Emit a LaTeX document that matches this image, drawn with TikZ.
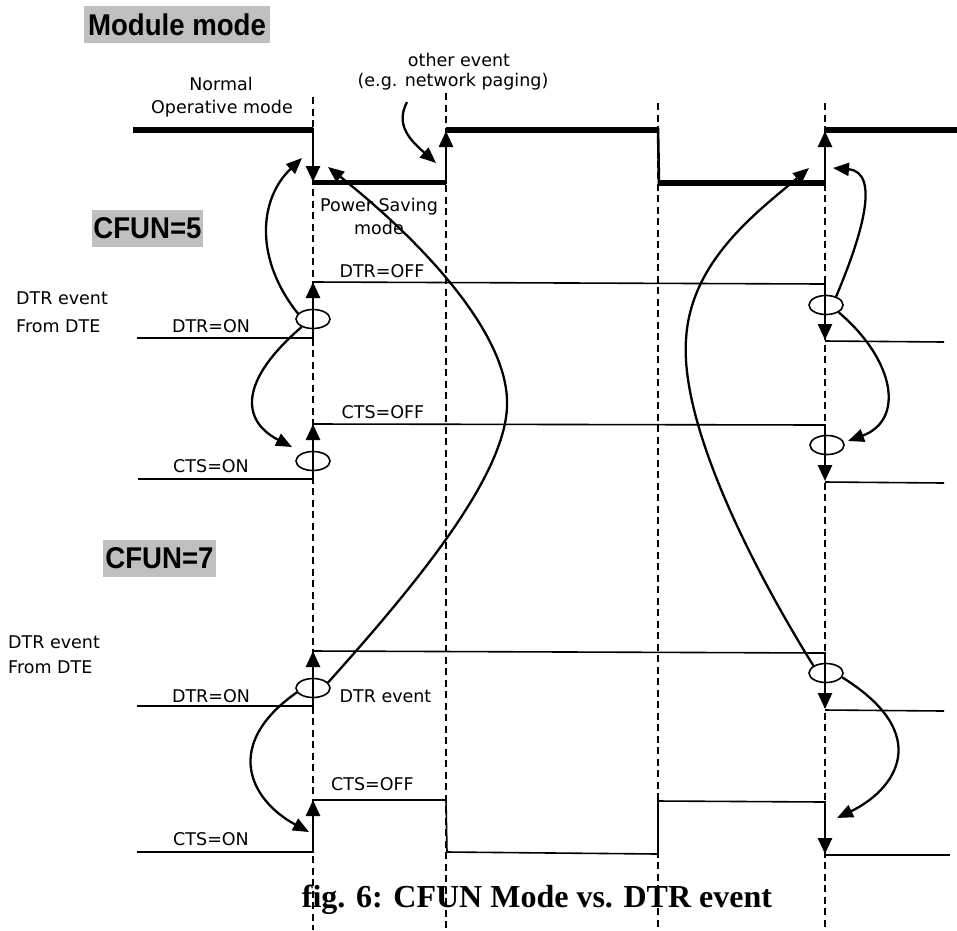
\documentclass[tikz,border=0pt]{standalone}
\usepackage{fontspec}
\setmainfont{DejaVu Sans}
\newfontfamily\headfont{Liberation Sans}[FakeStretch=0.92]
\newfontfamily\capfont{Liberation Serif}
\usetikzlibrary{arrows.meta,shapes.geometric}
\definecolor{hdgray}{RGB}{191,191,191}
\tikzset{
  modeline/.style={line width=5.5pt},
  sig/.style={line width=1.6pt},
  edgearrow/.style={line width=2.6pt,-{Triangle[length=16pt,width=14pt]}},
  edgeplain/.style={line width=2.6pt},
  link/.style={line width=2.3pt,-{Triangle[length=16pt,width=13pt]}},
  guide/.style={line width=1.4pt,dash pattern=on 7pt off 4.5pt},
  ring/.style={ellipse,draw,line width=1.6pt,minimum width=34pt,minimum height=19pt,inner sep=0pt},
  lbl/.style={inner sep=0pt,font=\fontsize{17.5}{21}\selectfont},
  head/.style={fill=hdgray,inner sep=0pt,font=\headfont\bfseries\fontsize{30}{30}\selectfont,minimum height=37pt},
}
\begin{document}
\begin{tikzpicture}[x=1pt,y=-1pt]
\useasboundingbox (0,0) rectangle (957,930);

% time guides
\draw[guide] (313,97) -- (313,930);
\draw[guide] (446,93) -- (446,930);
\draw[guide] (658,103) -- (658,930);
\draw[guide] (825,103) -- (825,930);

% headings
\node[head,minimum width=186pt] (hmod) at (177,24.5) {Module mode};
\node[head,minimum width=111pt] (hc5) at (147.5,228.5) {CFUN=5};
\node[head,minimum width=113pt] (hc7) at (159.5,558.5) {CFUN=7};

% module mode waveform
\draw[modeline] (133,130) -- (313,130);
\draw[modeline] (313,182.5) -- (446,182.5);
\draw[modeline] (446,130) -- (658,130);
\draw[modeline] (658,183) -- (825,183);
\draw[modeline] (825,130) -- (957,130);
\draw[edgearrow] (313,128) -- (313,182);
\draw[edgearrow] (446,184) -- (446,131);
\draw[edgeplain] (658,128) -- (659,185);
\draw[edgearrow] (825,185) -- (825,131);

\node[lbl,anchor=base] (tnorm) at (221,90) {Normal};
\node[lbl,anchor=base] (toper) at (222,113) {Operative mode};
\node[lbl,anchor=base] (tother) at (459,66) {other event};
\node[lbl,anchor=base] (tpage) at (453,86) {(e.g. network paging)};
\node[lbl,anchor=base] (tpow) at (379,211) {Power Saving};
\node[lbl,anchor=base] (tpmode) at (379,234) {mode};

% CFUN=5 : DTR
\node[lbl,anchor=base west] (d5a) at (16,304) {DTR event};
\node[lbl,anchor=base west] (d5b) at (16,332) {From DTE};
\node[lbl,anchor=base] (d5on) at (211,332) {DTR=ON};
\node[lbl,anchor=base] (d5off) at (382,277) {DTR=OFF};
\draw[sig] (137,338) -- (313,338);
\draw[edgearrow] (313,339) -- (313,282);
\draw[sig] (313,282) -- (825,284);
\draw[edgearrow] (825,283) -- (825,340);
\draw[sig] (825,341) -- (944,342);

% CFUN=5 : CTS
\node[lbl,anchor=base] (c5on) at (211,472) {CTS=ON};
\node[lbl,anchor=base] (c5off) at (383,418) {CTS=OFF};
\draw[sig] (138,479) -- (313,479);
\draw[edgearrow] (313,480) -- (313,424);
\draw[sig] (313,424) -- (825,425);
\draw[edgearrow] (825,424) -- (825,481);
\draw[sig] (825,482) -- (944,483);

% CFUN=7 : DTR
\node[lbl,anchor=base west] (d7a) at (8,648) {DTR event};
\node[lbl,anchor=base west] (d7b) at (8,673) {From DTE};
\node[lbl,anchor=base] (d7on) at (211,702) {DTR=ON};
\node[lbl,anchor=base] (d7ev) at (385.5,702) {DTR event};
\draw[sig] (137,706) -- (313,706);
\draw[edgearrow] (313,707) -- (313,651);
\draw[sig] (313,651) -- (825,653);
\draw[edgearrow] (825,652) -- (825,709);
\draw[sig] (825,710) -- (944,711);

% CFUN=7 : CTS
\node[lbl,anchor=base] (c7on) at (211,845) {CTS=ON};
\node[lbl,anchor=base] (c7off) at (372.5,790) {CTS=OFF};
\draw[sig] (137,852) -- (313,852);
\draw[edgearrow] (313,853) -- (313,800);
\draw[sig] (313,800) -- (446,800) -- (447,852) -- (658,854) -- (658,801) -- (825,802);
\draw[edgearrow] (825,801) -- (825,854);
\draw[sig] (825,855) -- (950,855);

% event rings
\node[ring] (e5dl) at (313,319) {};
\node[ring] (e5cl) at (313,461) {};
\node[ring] (e5dr) at (826,305) {};
\node[ring] (e5cr) at (827,445) {};
\node[ring] (e7dl) at (313,688) {};
\node[ring] (e7dr) at (826,673) {};

% arrow targets
\coordinate (tA) at (302,158);
\coordinate (tS) at (328,167);
\coordinate (tO) at (436,163);
\coordinate (sO) at (407,102);
\coordinate (tR) at (809,168);
\coordinate (tC) at (833,168);
\coordinate (tb) at (292,447);
\coordinate (td) at (848,441);
\coordinate (t7l) at (309,832);
\coordinate (t7r) at (837,818);

% causal links
\draw[link] (sO) .. controls (395,125) and (410,140) .. (tO);
\draw[link] (e5dl.160) .. controls (255,260) and (258,200) .. (tA);
\draw[link] (e5dl.215) .. controls (240,380) and (240,420) .. (tb);
\draw[link] (e5dr.40) .. controls (860,240) and (882,172) .. (tC);
\draw[link] (e5dr.-30) .. controls (895,360) and (905,420) .. (td);
\draw[link] (e7dl.20) .. controls (420,580) and (510,470) .. (507,400)
                      .. controls (505,330) and (420,240) .. (tS);
\draw[link] (e7dl.195) .. controls (222,745) and (250,800) .. (t7l);
\draw[link] (e7dr.150) .. controls (760,580) and (680,430) .. (686,340)
                       .. controls (690,260) and (760,210) .. (tR);
\draw[link] (e7dr.-15) .. controls (935,735) and (895,790) .. (t7r);

% caption
\node[inner sep=0pt,anchor=base,font=\capfont\bfseries\fontsize{32}{32}\selectfont] (cap) at (537,907) {fig. 6: CFUN Mode vs. DTR event};
\end{tikzpicture}
\end{document}
